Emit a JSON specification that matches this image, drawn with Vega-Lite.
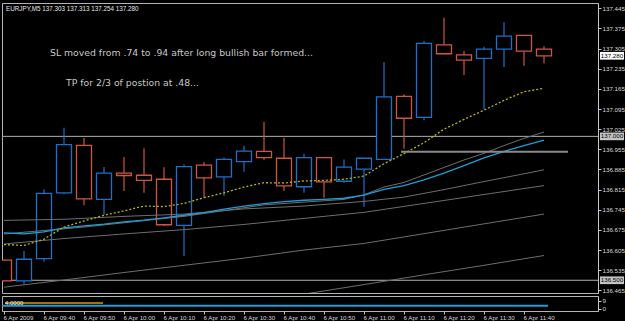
{
  "$schema": "https://vega.github.io/schema/vega-lite/v6.json",
  "background": "#000000",
  "padding": {"left": -3, "top": 2, "right": 0, "bottom": 0},
  "spacing": 0,
  "config": {
    "view": {"stroke": "#b4b4b4", "strokeWidth": 1},
    "text": {"font": "Liberation Sans"},
    "axis": {"labelOverlap": false, "labelFlush": false, "labelSeparation": 0, "title": null, "grid": false}
  },
  "datasets": {
    "bars": [
      {"t":"2009-04-06T09:30:00","open":136.570,"high":136.571,"low":136.497,"close":136.498},
      {"t":"2009-04-06T09:35:00","open":136.498,"high":136.602,"low":136.486,"close":136.573},
      {"t":"2009-04-06T09:40:00","open":136.575,"high":136.816,"low":136.564,"close":136.802},
      {"t":"2009-04-06T09:45:00","open":136.804,"high":137.030,"low":136.801,"close":136.971},
      {"t":"2009-04-06T09:50:00","open":136.969,"high":136.994,"low":136.761,"close":136.783},
      {"t":"2009-04-06T09:55:00","open":136.781,"high":136.894,"low":136.728,"close":136.872},
      {"t":"2009-04-06T10:00:00","open":136.872,"high":136.928,"low":136.810,"close":136.864},
      {"t":"2009-04-06T10:05:00","open":136.865,"high":136.959,"low":136.804,"close":136.847},
      {"t":"2009-04-06T10:10:00","open":136.851,"high":136.893,"low":136.689,"close":136.693},
      {"t":"2009-04-06T10:15:00","open":136.691,"high":136.903,"low":136.584,"close":136.895},
      {"t":"2009-04-06T10:20:00","open":136.900,"high":136.911,"low":136.787,"close":136.856},
      {"t":"2009-04-06T10:25:00","open":136.859,"high":136.926,"low":136.793,"close":136.920},
      {"t":"2009-04-06T10:30:00","open":136.912,"high":136.967,"low":136.877,"close":136.949},
      {"t":"2009-04-06T10:35:00","open":136.948,"high":137.051,"low":136.919,"close":136.926},
      {"t":"2009-04-06T10:40:00","open":136.924,"high":136.995,"low":136.810,"close":136.828},
      {"t":"2009-04-06T10:45:00","open":136.825,"high":136.940,"low":136.804,"close":136.926},
      {"t":"2009-04-06T10:50:00","open":136.926,"high":136.928,"low":136.787,"close":136.842},
      {"t":"2009-04-06T10:55:00","open":136.844,"high":136.920,"low":136.839,"close":136.893},
      {"t":"2009-04-06T11:00:00","open":136.886,"high":136.926,"low":136.755,"close":136.924},
      {"t":"2009-04-06T11:05:00","open":136.920,"high":137.258,"low":136.918,"close":137.137},
      {"t":"2009-04-06T11:10:00","open":137.139,"high":137.146,"low":136.957,"close":137.063},
      {"t":"2009-04-06T11:15:00","open":137.066,"high":137.331,"low":137.056,"close":137.323},
      {"t":"2009-04-06T11:20:00","open":137.318,"high":137.412,"low":137.285,"close":137.287},
      {"t":"2009-04-06T11:25:00","open":137.283,"high":137.297,"low":137.213,"close":137.265},
      {"t":"2009-04-06T11:30:00","open":137.271,"high":137.311,"low":137.094,"close":137.303},
      {"t":"2009-04-06T11:35:00","open":137.303,"high":137.397,"low":137.241,"close":137.348},
      {"t":"2009-04-06T11:40:00","open":137.351,"high":137.352,"low":137.245,"close":137.296},
      {"t":"2009-04-06T11:45:00","open":137.303,"high":137.313,"low":137.254,"close":137.280}
    ],
    "lines": [
      {"t":"2009-04-06T09:30:00","s":"y","v":136.624},{"t":"2009-04-06T09:35:00","s":"y","v":136.621},{"t":"2009-04-06T09:40:00","s":"y","v":136.643},{"t":"2009-04-06T09:45:00","s":"y","v":136.685},{"t":"2009-04-06T09:50:00","s":"y","v":136.706},{"t":"2009-04-06T09:55:00","s":"y","v":136.726},{"t":"2009-04-06T10:00:00","s":"y","v":136.741},{"t":"2009-04-06T10:05:00","s":"y","v":136.758},{"t":"2009-04-06T10:10:00","s":"y","v":136.756},{"t":"2009-04-06T10:15:00","s":"y","v":136.767},{"t":"2009-04-06T10:20:00","s":"y","v":136.787},{"t":"2009-04-06T10:25:00","s":"y","v":136.804},{"t":"2009-04-06T10:30:00","s":"y","v":136.824},{"t":"2009-04-06T10:35:00","s":"y","v":136.839},{"t":"2009-04-06T10:40:00","s":"y","v":136.838},{"t":"2009-04-06T10:45:00","s":"y","v":136.845},{"t":"2009-04-06T10:50:00","s":"y","v":136.847},{"t":"2009-04-06T10:55:00","s":"y","v":136.851},{"t":"2009-04-06T11:00:00","s":"y","v":136.862},{"t":"2009-04-06T11:05:00","s":"y","v":136.905},{"t":"2009-04-06T11:10:00","s":"y","v":136.940},{"t":"2009-04-06T11:15:00","s":"y","v":136.978},{"t":"2009-04-06T11:20:00","s":"y","v":137.025},{"t":"2009-04-06T11:25:00","s":"y","v":137.059},{"t":"2009-04-06T11:30:00","s":"y","v":137.091},{"t":"2009-04-06T11:35:00","s":"y","v":137.125},{"t":"2009-04-06T11:40:00","s":"y","v":137.155},{"t":"2009-04-06T11:45:00","s":"y","v":137.167},
      {"t":"2009-04-06T09:30:00","s":"c","v":136.665},{"t":"2009-04-06T09:35:00","s":"c","v":136.661},{"t":"2009-04-06T09:40:00","s":"c","v":136.668},{"t":"2009-04-06T09:45:00","s":"c","v":136.682},{"t":"2009-04-06T09:50:00","s":"c","v":136.689},{"t":"2009-04-06T09:55:00","s":"c","v":136.695},{"t":"2009-04-06T10:00:00","s":"c","v":136.703},{"t":"2009-04-06T10:05:00","s":"c","v":136.709},{"t":"2009-04-06T10:10:00","s":"c","v":136.717},{"t":"2009-04-06T10:15:00","s":"c","v":136.726},{"t":"2009-04-06T10:20:00","s":"c","v":136.735},{"t":"2009-04-06T10:25:00","s":"c","v":136.747},{"t":"2009-04-06T10:30:00","s":"c","v":136.758},{"t":"2009-04-06T10:35:00","s":"c","v":136.766},{"t":"2009-04-06T10:40:00","s":"c","v":136.773},{"t":"2009-04-06T10:45:00","s":"c","v":136.778},{"t":"2009-04-06T10:50:00","s":"c","v":136.781},{"t":"2009-04-06T10:55:00","s":"c","v":136.785},{"t":"2009-04-06T11:00:00","s":"c","v":136.796},{"t":"2009-04-06T11:05:00","s":"c","v":136.816},{"t":"2009-04-06T11:10:00","s":"c","v":136.829},{"t":"2009-04-06T11:15:00","s":"c","v":136.849},{"t":"2009-04-06T11:20:00","s":"c","v":136.872},{"t":"2009-04-06T11:25:00","s":"c","v":136.898},{"t":"2009-04-06T11:30:00","s":"c","v":136.925},{"t":"2009-04-06T11:35:00","s":"c","v":136.948},{"t":"2009-04-06T11:40:00","s":"c","v":136.968},{"t":"2009-04-06T11:45:00","s":"c","v":136.987},
      {"t":"2009-04-06T09:30:00","s":"g1","v":136.661},{"t":"2009-04-06T09:50:00","s":"g1","v":136.685},{"t":"2009-04-06T10:15:00","s":"g1","v":136.722},{"t":"2009-04-06T10:35:00","s":"g1","v":136.762},{"t":"2009-04-06T10:55:00","s":"g1","v":136.781},{"t":"2009-04-06T11:00:00","s":"g1","v":136.797},{"t":"2009-04-06T11:05:00","s":"g1","v":136.824},{"t":"2009-04-06T11:10:00","s":"g1","v":136.840},{"t":"2009-04-06T11:15:00","s":"g1","v":136.866},{"t":"2009-04-06T11:20:00","s":"g1","v":136.892},{"t":"2009-04-06T11:25:00","s":"g1","v":136.918},{"t":"2009-04-06T11:30:00","s":"g1","v":136.941},{"t":"2009-04-06T11:35:00","s":"g1","v":136.968},{"t":"2009-04-06T11:40:00","s":"g1","v":136.993},{"t":"2009-04-06T11:45:00","s":"g1","v":137.015},
      {"t":"2009-04-06T09:30:00","s":"g2","v":136.708},{"t":"2009-04-06T09:45:00","s":"g2","v":136.712},{"t":"2009-04-06T10:00:00","s":"g2","v":136.722},{"t":"2009-04-06T10:15:00","s":"g2","v":136.730},{"t":"2009-04-06T10:30:00","s":"g2","v":136.748},{"t":"2009-04-06T10:45:00","s":"g2","v":136.758},{"t":"2009-04-06T11:00:00","s":"g2","v":136.774},{"t":"2009-04-06T11:10:00","s":"g2","v":136.789},{"t":"2009-04-06T11:20:00","s":"g2","v":136.815},{"t":"2009-04-06T11:30:00","s":"g2","v":136.843},{"t":"2009-04-06T11:40:00","s":"g2","v":136.870},{"t":"2009-04-06T11:45:00","s":"g2","v":136.884},
      {"t":"2009-04-06T09:30:00","s":"g3","v":136.626},{"t":"2009-04-06T09:45:00","s":"g3","v":136.645},{"t":"2009-04-06T10:00:00","s":"g3","v":136.661},{"t":"2009-04-06T10:15:00","s":"g3","v":136.676},{"t":"2009-04-06T10:30:00","s":"g3","v":136.694},{"t":"2009-04-06T10:45:00","s":"g3","v":136.715},{"t":"2009-04-06T11:00:00","s":"g3","v":136.736},{"t":"2009-04-06T11:15:00","s":"g3","v":136.767},{"t":"2009-04-06T11:30:00","s":"g3","v":136.798},{"t":"2009-04-06T11:45:00","s":"g3","v":136.829},
      {"t":"2009-04-06T09:30:00","s":"g4","v":136.476},{"t":"2009-04-06T09:45:00","s":"g4","v":136.501},{"t":"2009-04-06T10:00:00","s":"g4","v":136.527},{"t":"2009-04-06T10:15:00","s":"g4","v":136.552},{"t":"2009-04-06T10:30:00","s":"g4","v":136.577},{"t":"2009-04-06T10:45:00","s":"g4","v":136.605},{"t":"2009-04-06T11:00:00","s":"g4","v":136.628},{"t":"2009-04-06T11:15:00","s":"g4","v":136.662},{"t":"2009-04-06T11:30:00","s":"g4","v":136.696},{"t":"2009-04-06T11:45:00","s":"g4","v":136.730},
      {"t":"2009-04-06T10:15:00","s":"g5","v":136.385},{"t":"2009-04-06T10:30:00","s":"g5","v":136.418},{"t":"2009-04-06T10:45:00","s":"g5","v":136.452},{"t":"2009-04-06T11:00:00","s":"g5","v":136.485},{"t":"2009-04-06T11:15:00","s":"g5","v":136.519},{"t":"2009-04-06T11:30:00","s":"g5","v":136.552},{"t":"2009-04-06T11:45:00","s":"g5","v":136.586}
    ]
  },
  "vconcat": [
    {
      "width": 596,
      "height": 290,
      "layer": [
        {
          "data": {"values": [{"level": 137.0}, {"level": 136.5}]},
          "mark": {"type": "rule", "color": "#b0b0b0", "strokeWidth": 1},
          "encoding": {
            "y": {"field": "level", "type": "quantitative", "scale": {"domain": [136.4558, 137.4634], "zero": false, "nice": false},
              "axis": {"orient": "right", "title": null, "grid": false, "zindex": 1, "tickCount": 30, "values": [136.465, 136.535, 136.605, 136.675, 136.745, 136.815, 136.885, 136.955, 137.025, 137.095, 137.165, 137.235, 137.305, 137.375, 137.445], "format": ".3f",
                "labelFont": "Liberation Sans", "labelFontSize": 6.2, "labelColor": "#d8d8d8", "domainColor": "#c8c8c8", "tickColor": "#c8c8c8", "tickSize": 3, "labelPadding": 1, "labelOverlap": false}}
          }
        },
        {
          "data": {"name": "bars"},
          "mark": {"type": "rule", "strokeWidth": 1.2, "clip": true},
          "encoding": {
            "x": {"field": "t", "type": "temporal", "axis": null, "scale": {"padding": 0, "domain": [{"year": 2009, "month": 4, "date": 6, "hours": 9, "minutes": 29, "seconds": 30}, {"year": 2009, "month": 4, "date": 6, "hours": 11, "minutes": 58, "seconds": 30}]}},
            "y": {"field": "low", "type": "quantitative", "scale": {"domain": [136.4558, 137.4634], "zero": false, "nice": false}},
            "y2": {"field": "high"},
            "stroke": {"condition": {"test": "datum.close >= datum.open", "value": "#1f6fca"}, "value": "#cd583c"}
          }
        },
        {
          "data": {"name": "bars"},
          "mark": {"type": "bar", "size": 15, "fill": "#000000", "strokeWidth": 1.3, "clip": true},
          "encoding": {
            "x": {"field": "t", "type": "temporal", "axis": null, "scale": {"padding": 0, "domain": [{"year": 2009, "month": 4, "date": 6, "hours": 9, "minutes": 29, "seconds": 30}, {"year": 2009, "month": 4, "date": 6, "hours": 11, "minutes": 58, "seconds": 30}]}},
            "y": {"field": "open", "type": "quantitative", "scale": {"domain": [136.4558, 137.4634], "zero": false, "nice": false}},
            "y2": {"field": "close"},
            "stroke": {"condition": {"test": "datum.close >= datum.open", "value": "#1f6fca"}, "value": "#cd583c"}
          }
        },
        {
          "data": {"name": "lines"},
          "transform": [{"filter": "indexof(['g1','g2','g3','g4','g5'], datum.s) >= 0"}],
          "mark": {"type": "line", "color": "#6e6e6e", "strokeWidth": 1, "clip": true},
          "encoding": {
            "x": {"field": "t", "type": "temporal", "axis": null, "scale": {"padding": 0, "domain": [{"year": 2009, "month": 4, "date": 6, "hours": 9, "minutes": 29, "seconds": 30}, {"year": 2009, "month": 4, "date": 6, "hours": 11, "minutes": 58, "seconds": 30}]}},
            "y": {"field": "v", "type": "quantitative", "scale": {"domain": [136.4558, 137.4634], "zero": false, "nice": false}},
            "detail": {"field": "s"}
          }
        },
        {
          "data": {"name": "lines"},
          "transform": [{"filter": "datum.s == 'c'"}],
          "mark": {"type": "line", "color": "#1c9ed8", "strokeWidth": 1.3, "clip": true},
          "encoding": {
            "x": {"field": "t", "type": "temporal", "axis": null, "scale": {"padding": 0, "domain": [{"year": 2009, "month": 4, "date": 6, "hours": 9, "minutes": 29, "seconds": 30}, {"year": 2009, "month": 4, "date": 6, "hours": 11, "minutes": 58, "seconds": 30}]}},
            "y": {"field": "v", "type": "quantitative", "scale": {"domain": [136.4558, 137.4634], "zero": false, "nice": false}}
          }
        },
        {
          "data": {"name": "lines"},
          "transform": [{"filter": "datum.s == 'y'"}],
          "mark": {"type": "line", "color": "#b8b51c", "strokeWidth": 1.3, "strokeDash": [2, 2], "clip": true},
          "encoding": {
            "x": {"field": "t", "type": "temporal", "axis": null, "scale": {"padding": 0, "domain": [{"year": 2009, "month": 4, "date": 6, "hours": 9, "minutes": 29, "seconds": 30}, {"year": 2009, "month": 4, "date": 6, "hours": 11, "minutes": 58, "seconds": 30}]}},
            "y": {"field": "v", "type": "quantitative", "scale": {"domain": [136.4558, 137.4634], "zero": false, "nice": false}}
          }
        },
        {
          "data": {"values": [{"t1": "2009-04-06T11:09:15", "t2": "2009-04-06T11:51:00", "p": 136.947}]},
          "mark": {"type": "rule", "color": "#8a8a8a", "strokeWidth": 2},
          "encoding": {
            "x": {"field": "t1", "type": "temporal", "axis": null, "scale": {"padding": 0, "domain": [{"year": 2009, "month": 4, "date": 6, "hours": 9, "minutes": 29, "seconds": 30}, {"year": 2009, "month": 4, "date": 6, "hours": 11, "minutes": 58, "seconds": 30}]}},
            "x2": {"field": "t2"},
            "y": {"field": "p", "type": "quantitative", "scale": {"domain": [136.4558, 137.4634], "zero": false, "nice": false}}
          }
        },
        {
          "data": {"values": [{"label": "EURJPY,M5  137.303 137.313 137.254 137.280"}]},
          "mark": {"type": "text", "align": "left", "baseline": "middle", "fontSize": 6.3, "color": "#e6e6e6"},
          "encoding": {
            "x": {"datum": {"year": 2009, "month": 4, "date": 6, "hours": 9, "minutes": 30, "seconds": 30}, "type": "temporal", "axis": null, "scale": {"padding": 0, "domain": [{"year": 2009, "month": 4, "date": 6, "hours": 9, "minutes": 29, "seconds": 30}, {"year": 2009, "month": 4, "date": 6, "hours": 11, "minutes": 58, "seconds": 30}]}},
            "y": {"datum": 137.4442, "type": "quantitative", "scale": {"domain": [136.4558, 137.4634], "zero": false, "nice": false}},
            "text": {"field": "label"}
          }
        },
        {
          "data": {"values": [{"label": "SL moved from .74 to .94 after long bullish bar formed..."}]},
          "mark": {"type": "text", "align": "left", "baseline": "middle", "font": "DejaVu Sans", "fontSize": 9.3, "color": "#c8c8c8"},
          "encoding": {
            "x": {"datum": {"year": 2009, "month": 4, "date": 6, "hours": 9, "minutes": 41, "seconds": 30}, "type": "temporal", "axis": null, "scale": {"padding": 0, "domain": [{"year": 2009, "month": 4, "date": 6, "hours": 9, "minutes": 29, "seconds": 30}, {"year": 2009, "month": 4, "date": 6, "hours": 11, "minutes": 58, "seconds": 30}]}},
            "y": {"datum": 137.2907, "type": "quantitative", "scale": {"domain": [136.4558, 137.4634], "zero": false, "nice": false}},
            "text": {"field": "label"}
          }
        },
        {
          "data": {"values": [{"label": "TP for 2/3 of postion at .48..."}]},
          "mark": {"type": "text", "align": "left", "baseline": "middle", "font": "DejaVu Sans", "fontSize": 9.3, "color": "#c8c8c8"},
          "encoding": {
            "x": {"datum": {"year": 2009, "month": 4, "date": 6, "hours": 9, "minutes": 45, "seconds": 30}, "type": "temporal", "axis": null, "scale": {"padding": 0, "domain": [{"year": 2009, "month": 4, "date": 6, "hours": 9, "minutes": 29, "seconds": 30}, {"year": 2009, "month": 4, "date": 6, "hours": 11, "minutes": 58, "seconds": 30}]}},
            "y": {"datum": 137.1865, "type": "quantitative", "scale": {"domain": [136.4558, 137.4634], "zero": false, "nice": false}},
            "text": {"field": "label"}
          }
        },
        {
          "data": {"values": [{"p": 137.280, "label": "137.280", "kind": "bid"}, {"p": 137.000, "label": "137.000", "kind": "level"}, {"p": 136.500, "label": "136.500", "kind": "level"}]},
          "mark": {"type": "point", "shape": "M-1,-0.32H1V0.32H-1Z", "size": 576, "filled": true, "opacity": 1},
          "encoding": {
            "x": {"datum": {"year": 2009, "month": 4, "date": 6, "hours": 12, "minutes": 2, "seconds": 0}, "type": "temporal", "axis": null, "scale": {"padding": 0, "domain": [{"year": 2009, "month": 4, "date": 6, "hours": 9, "minutes": 29, "seconds": 30}, {"year": 2009, "month": 4, "date": 6, "hours": 11, "minutes": 58, "seconds": 30}]}},
            "y": {"field": "p", "type": "quantitative", "scale": {"domain": [136.4558, 137.4634], "zero": false, "nice": false}},
            "color": {"condition": {"test": "datum.kind == 'bid'", "value": "#ffffff"}, "value": "#c4c4c4"}
          }
        },
        {
          "data": {"values": [{"p": 137.280, "label": "137.280"}, {"p": 137.000, "label": "137.000"}, {"p": 136.500, "label": "136.500"}]},
          "mark": {"type": "text", "align": "center", "baseline": "middle", "fontSize": 6.2, "color": "#000000"},
          "encoding": {
            "x": {"datum": {"year": 2009, "month": 4, "date": 6, "hours": 12, "minutes": 2, "seconds": 0}, "type": "temporal", "axis": null, "scale": {"padding": 0, "domain": [{"year": 2009, "month": 4, "date": 6, "hours": 9, "minutes": 29, "seconds": 30}, {"year": 2009, "month": 4, "date": 6, "hours": 11, "minutes": 58, "seconds": 30}]}},
            "y": {"field": "p", "type": "quantitative", "scale": {"domain": [136.4558, 137.4634], "zero": false, "nice": false}},
            "text": {"field": "label"}
          }
        }
      ]
    },
    {
      "width": 596,
      "height": 15,
      "layer": [
        {
          "data": {"values": [{"t": "2009-04-06T09:29:30", "v": 3.6}, {"t": "2009-04-06T11:46:00", "v": 3.6}]},
          "mark": {"type": "line", "color": "#1c9ed8", "strokeWidth": 2},
          "encoding": {
            "x": {"field": "t", "type": "temporal", "scale": {"padding": 0, "domain": [{"year": 2009, "month": 4, "date": 6, "hours": 9, "minutes": 29, "seconds": 30}, {"year": 2009, "month": 4, "date": 6, "hours": 11, "minutes": 58, "seconds": 30}]},
              "axis": {"orient": "bottom", "title": null, "grid": false, "zindex": 1, "domain": false, "labelAlign": "left", "labelOffset": -1, "labelPadding": 0, "tickCount": 30,
                "labelFont": "Liberation Sans", "labelFontSize": 6.2, "labelColor": "#d8d8d8", "tickColor": "#c8c8c8", "tickSize": 3, "labelOverlap": false,
                "values": [
                  {"year": 2009, "month": 4, "date": 6, "hours": 9, "minutes": 30},
                  {"year": 2009, "month": 4, "date": 6, "hours": 9, "minutes": 40},
                  {"year": 2009, "month": 4, "date": 6, "hours": 9, "minutes": 50},
                  {"year": 2009, "month": 4, "date": 6, "hours": 10, "minutes": 0},
                  {"year": 2009, "month": 4, "date": 6, "hours": 10, "minutes": 10},
                  {"year": 2009, "month": 4, "date": 6, "hours": 10, "minutes": 20},
                  {"year": 2009, "month": 4, "date": 6, "hours": 10, "minutes": 30},
                  {"year": 2009, "month": 4, "date": 6, "hours": 10, "minutes": 40},
                  {"year": 2009, "month": 4, "date": 6, "hours": 10, "minutes": 50},
                  {"year": 2009, "month": 4, "date": 6, "hours": 11, "minutes": 0},
                  {"year": 2009, "month": 4, "date": 6, "hours": 11, "minutes": 10},
                  {"year": 2009, "month": 4, "date": 6, "hours": 11, "minutes": 20},
                  {"year": 2009, "month": 4, "date": 6, "hours": 11, "minutes": 30},
                  {"year": 2009, "month": 4, "date": 6, "hours": 11, "minutes": 40}
                ],
                "labelExpr": "(hours(datum.value) == 9 && minutes(datum.value) == 30) ? '6 Apr 2009' : '6 Apr ' + timeFormat(datum.value, '%H:%M')"}},
            "y": {"field": "v", "type": "quantitative", "scale": {"domain": [-2.17, 14.1], "zero": false, "nice": false},
              "axis": {"orient": "right", "title": null, "grid": false, "zindex": 1, "values": [0, 9], "format": "d", "tickCount": 10,
                "labelFont": "Liberation Sans", "labelFontSize": 6.2, "labelColor": "#d8d8d8", "domainColor": "#c8c8c8", "tickColor": "#c8c8c8", "tickSize": 3, "labelPadding": 1, "labelOverlap": false}}
          }
        },
        {
          "data": {"values": [{"t": "2009-04-06T09:30:15", "v": 6.5}, {"t": "2009-04-06T09:54:45", "v": 6.5}]},
          "mark": {"type": "line", "color": "#d29a1c", "strokeWidth": 1.6},
          "encoding": {
            "x": {"field": "t", "type": "temporal", "scale": {"padding": 0, "domain": [{"year": 2009, "month": 4, "date": 6, "hours": 9, "minutes": 29, "seconds": 30}, {"year": 2009, "month": 4, "date": 6, "hours": 11, "minutes": 58, "seconds": 30}]}},
            "y": {"field": "v", "type": "quantitative", "scale": {"domain": [-2.17, 14.1], "zero": false, "nice": false}}
          }
        },
        {
          "data": {"values": [{"label": "4.0000"}]},
          "mark": {"type": "text", "align": "left", "baseline": "middle", "fontSize": 6, "color": "#f0f0f0"},
          "encoding": {
            "x": {"datum": {"year": 2009, "month": 4, "date": 6, "hours": 9, "minutes": 30, "seconds": 15}, "type": "temporal", "scale": {"padding": 0, "domain": [{"year": 2009, "month": 4, "date": 6, "hours": 9, "minutes": 29, "seconds": 30}, {"year": 2009, "month": 4, "date": 6, "hours": 11, "minutes": 58, "seconds": 30}]}},
            "y": {"datum": 6.5, "type": "quantitative", "scale": {"domain": [-2.17, 14.1], "zero": false, "nice": false}},
            "text": {"field": "label"}
          }
        }
      ]
    }
  ]
}
